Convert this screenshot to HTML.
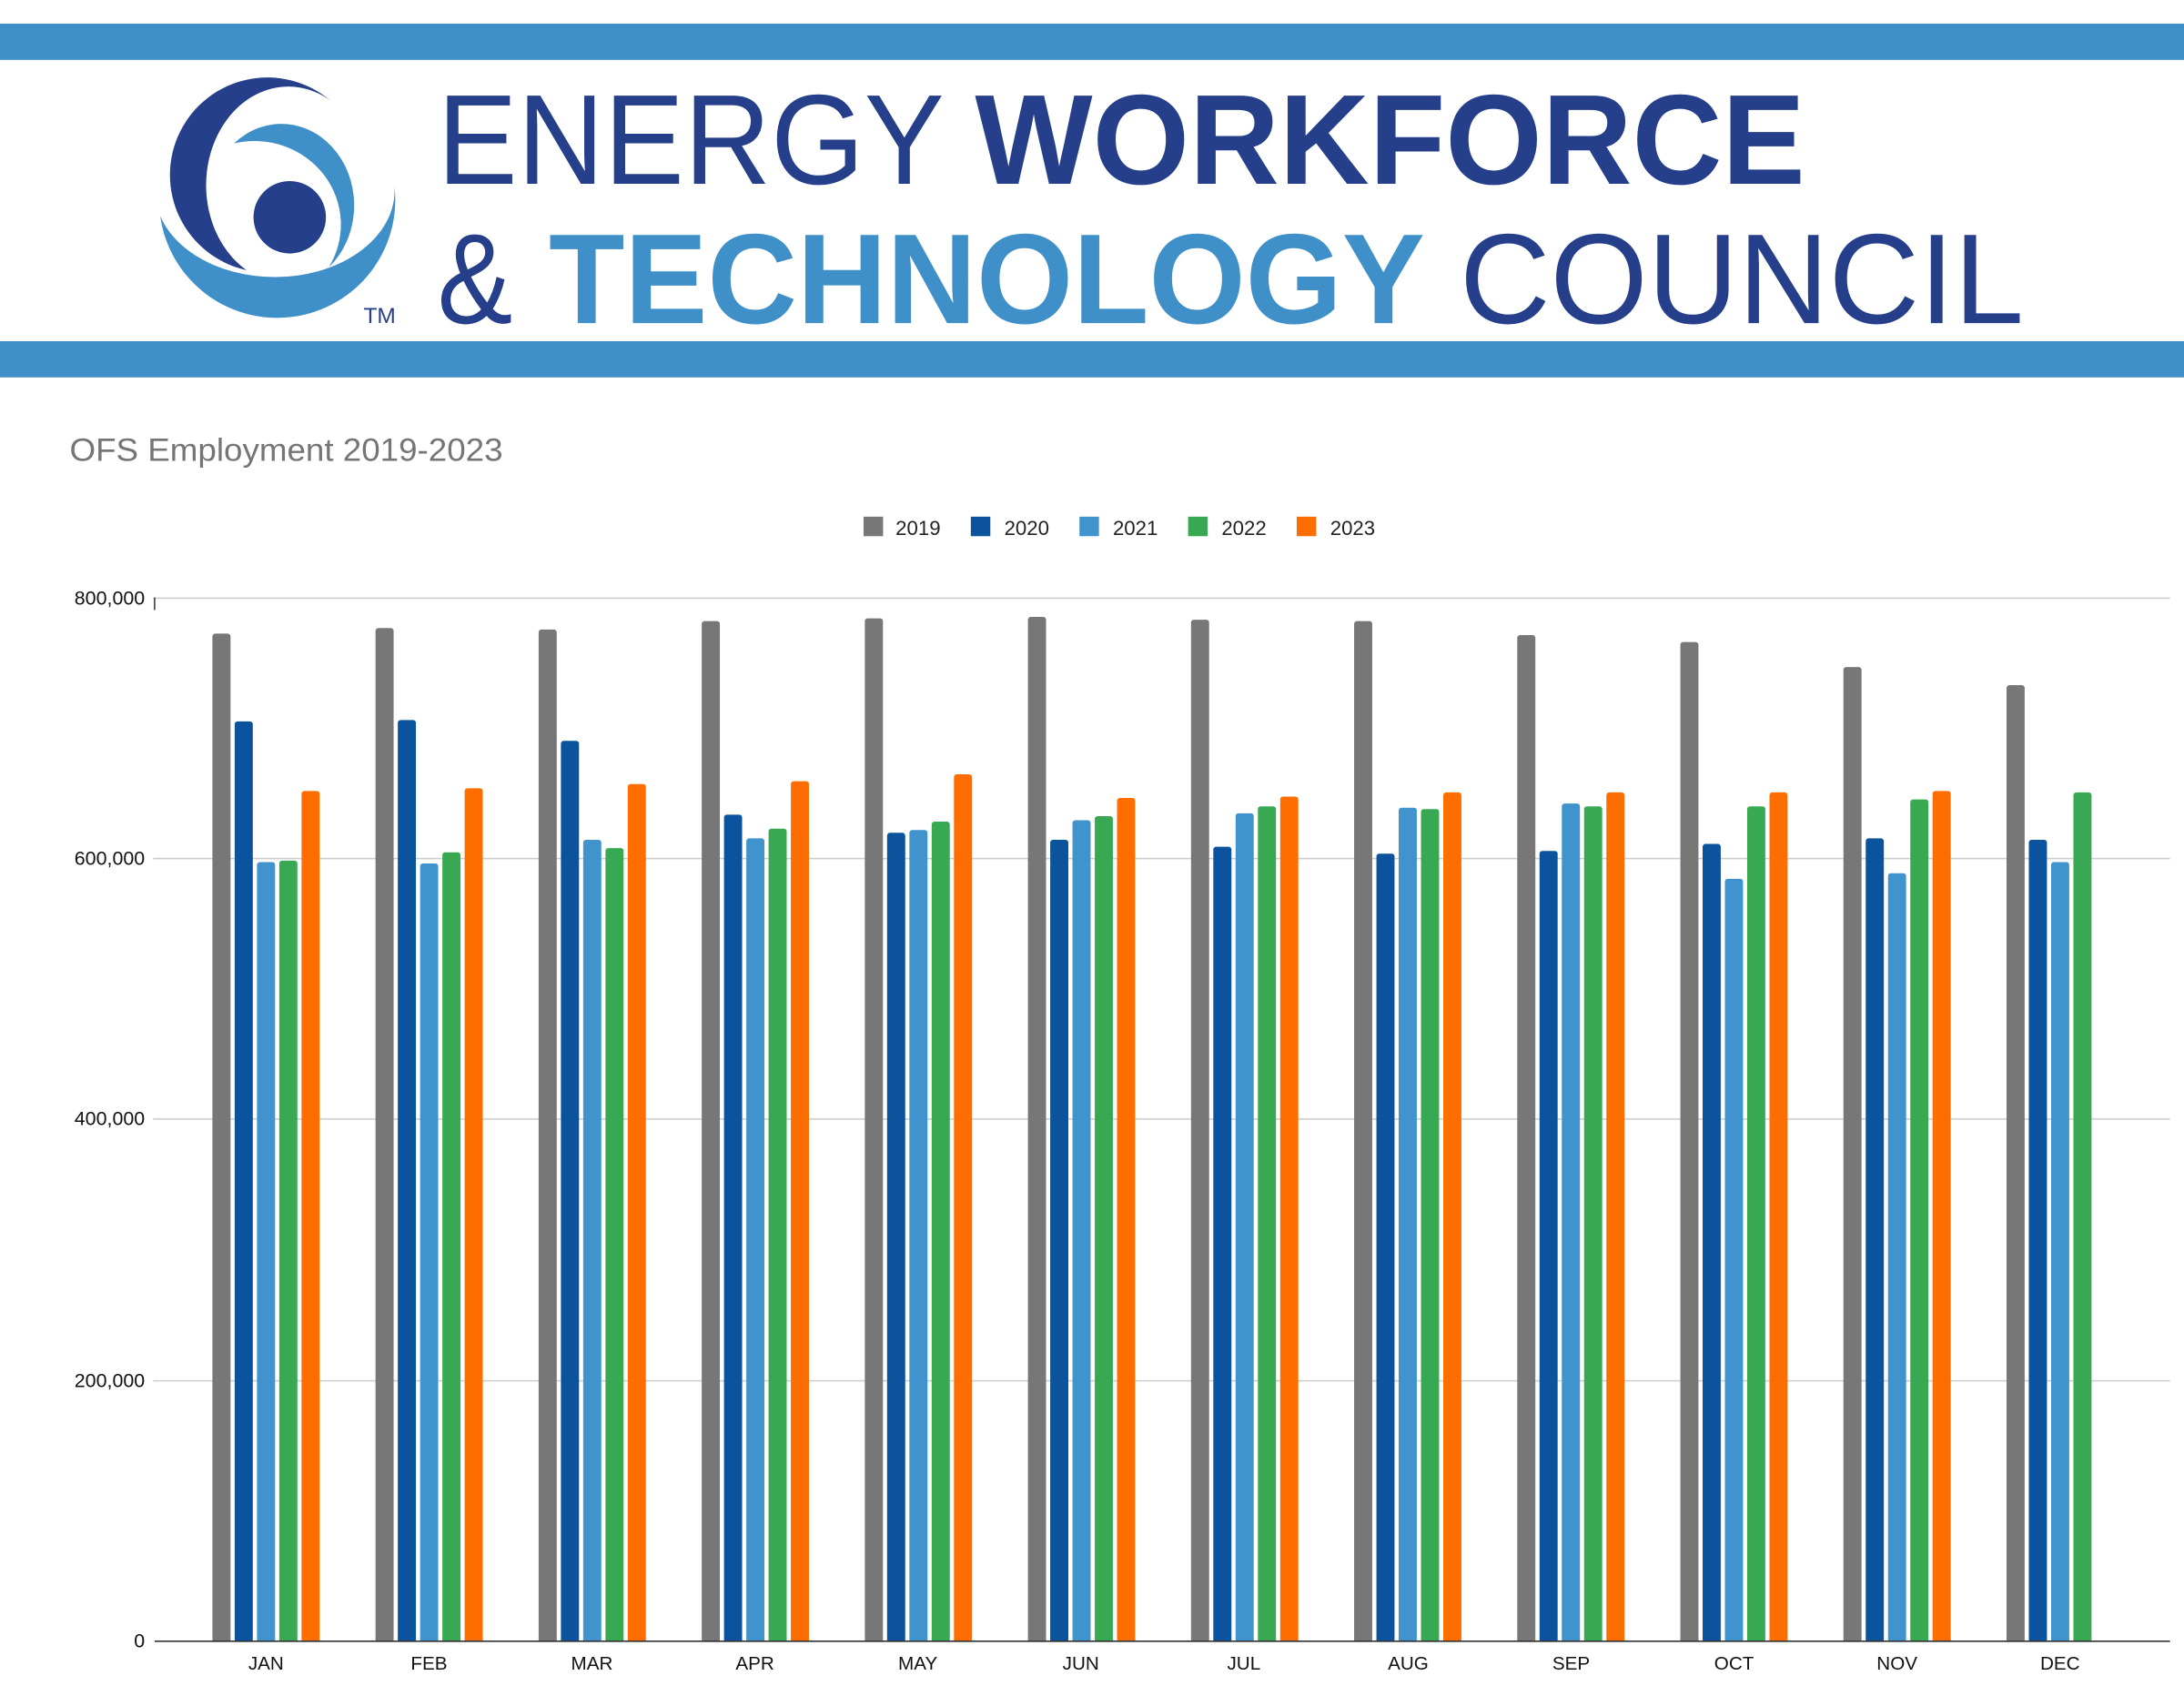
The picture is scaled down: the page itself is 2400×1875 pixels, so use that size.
<!DOCTYPE html>
<html><head><meta charset="utf-8"><style>
html,body{margin:0;padding:0;background:#fff;}
svg{display:block;}
text{font-family:"Liberation Sans",Arial,sans-serif;}
</style></head><body>
<svg width="2400" height="1875" viewBox="0 0 1568 1225" xmlns="http://www.w3.org/2000/svg">
<rect width="1568" height="1225" fill="#fff"/>
<rect x="0" y="17" width="1568" height="26" fill="#3f8fc8"/>
<rect x="0" y="245" width="1568" height="26" fill="#3f8fc8"/>
<!-- logo -->
<path d="M115,155 A84,84 0 0 0 283,132 A86,62 0 0 1 115,155 Z" fill="#3f8fc8"/>
<path d="M237,72 A70,70 0 1 0 177,194 A55,66 0 0 1 237,72 Z" fill="#253f8a"/>
<path d="M168,103 A62,60 0 0 1 236,192 A50,56 0 0 0 168,103 Z" fill="#3f8fc8"/>
<circle cx="208" cy="156" r="26" fill="#253f8a"/>
<text x="261" y="232" font-size="16" fill="#253f8a">TM</text>
<text x="314" y="132" font-size="92" fill="#253f8a" textLength="364" lengthAdjust="spacingAndGlyphs">ENERGY</text>
<text x="700" y="132" font-size="92" font-weight="bold" fill="#253f8a" textLength="596" lengthAdjust="spacingAndGlyphs">WORKFORCE</text>
<text x="314" y="232" font-size="92" fill="#253f8a" textLength="54" lengthAdjust="spacingAndGlyphs">&amp;</text>
<text x="394" y="232" font-size="92" font-weight="bold" fill="#3f8fc8" textLength="629" lengthAdjust="spacingAndGlyphs">TECHNOLOGY</text>
<text x="1048" y="232" font-size="92" fill="#253f8a" textLength="405" lengthAdjust="spacingAndGlyphs">COUNCIL</text>
<!-- title -->
<text x="50" y="331" font-size="23" fill="#757575" textLength="311" lengthAdjust="spacingAndGlyphs">OFS Employment 2019-2023</text>
<!-- legend -->
<g font-size="14.5" fill="#222">
<rect x="620" y="371" width="14" height="14" fill="#777"/><text x="643" y="384">2019</text>
<rect x="697" y="371" width="14" height="14" fill="#0b539c"/><text x="721" y="384">2020</text>
<rect x="775" y="371" width="14" height="14" fill="#4093cc"/><text x="799" y="384">2021</text>
<rect x="853" y="371" width="14" height="14" fill="#39a852"/><text x="877" y="384">2022</text>
<rect x="931" y="371" width="14" height="14" fill="#fe6d00"/><text x="955" y="384">2023</text>
</g>
<!-- grid -->
<g stroke="#ccc" stroke-width="1">
<line x1="110" y1="429.5" x2="1558" y2="429.5"/>
<line x1="110" y1="616.5" x2="1558" y2="616.5"/>
<line x1="110" y1="803.5" x2="1558" y2="803.5"/>
<line x1="110" y1="991.5" x2="1558" y2="991.5"/>
</g>
<line x1="111" y1="429" x2="111" y2="438" stroke="#333"/>
<!-- bars -->
<g>
<g transform="translate(191,0)"><rect x="-38.5" y="455" width="13" height="725" rx="2" fill="#777"/><rect x="-22.5" y="518" width="13" height="662" rx="2" fill="#0b539c"/><rect x="-6.5" y="619" width="13" height="561" rx="2" fill="#4093cc"/><rect x="9.5" y="618" width="13" height="562" rx="2" fill="#39a852"/><rect x="25.5" y="568" width="13" height="612" rx="2" fill="#fe6d00"/></g>
<g transform="translate(308.1,0)"><rect x="-38.5" y="451" width="13" height="729" rx="2" fill="#777"/><rect x="-22.5" y="517" width="13" height="663" rx="2" fill="#0b539c"/><rect x="-6.5" y="620" width="13" height="560" rx="2" fill="#4093cc"/><rect x="9.5" y="612" width="13" height="568" rx="2" fill="#39a852"/><rect x="25.5" y="566" width="13" height="614" rx="2" fill="#fe6d00"/></g>
<g transform="translate(425.2,0)"><rect x="-38.5" y="452" width="13" height="728" rx="2" fill="#777"/><rect x="-22.5" y="532" width="13" height="648" rx="2" fill="#0b539c"/><rect x="-6.5" y="603" width="13" height="577" rx="2" fill="#4093cc"/><rect x="9.5" y="609" width="13" height="571" rx="2" fill="#39a852"/><rect x="25.5" y="563" width="13" height="617" rx="2" fill="#fe6d00"/></g>
<g transform="translate(542.3,0)"><rect x="-38.5" y="446" width="13" height="734" rx="2" fill="#777"/><rect x="-22.5" y="585" width="13" height="595" rx="2" fill="#0b539c"/><rect x="-6.5" y="602" width="13" height="578" rx="2" fill="#4093cc"/><rect x="9.5" y="595" width="13" height="585" rx="2" fill="#39a852"/><rect x="25.5" y="561" width="13" height="619" rx="2" fill="#fe6d00"/></g>
<g transform="translate(659.4,0)"><rect x="-38.5" y="444" width="13" height="736" rx="2" fill="#777"/><rect x="-22.5" y="598" width="13" height="582" rx="2" fill="#0b539c"/><rect x="-6.5" y="596" width="13" height="584" rx="2" fill="#4093cc"/><rect x="9.5" y="590" width="13" height="590" rx="2" fill="#39a852"/><rect x="25.5" y="556" width="13" height="624" rx="2" fill="#fe6d00"/></g>
<g transform="translate(776.5,0)"><rect x="-38.5" y="443" width="13" height="737" rx="2" fill="#777"/><rect x="-22.5" y="603" width="13" height="577" rx="2" fill="#0b539c"/><rect x="-6.5" y="589" width="13" height="591" rx="2" fill="#4093cc"/><rect x="9.5" y="586" width="13" height="594" rx="2" fill="#39a852"/><rect x="25.5" y="573" width="13" height="607" rx="2" fill="#fe6d00"/></g>
<g transform="translate(893.6,0)"><rect x="-38.5" y="445" width="13" height="735" rx="2" fill="#777"/><rect x="-22.5" y="608" width="13" height="572" rx="2" fill="#0b539c"/><rect x="-6.5" y="584" width="13" height="596" rx="2" fill="#4093cc"/><rect x="9.5" y="579" width="13" height="601" rx="2" fill="#39a852"/><rect x="25.5" y="572" width="13" height="608" rx="2" fill="#fe6d00"/></g>
<g transform="translate(1010.7,0)"><rect x="-38.5" y="446" width="13" height="734" rx="2" fill="#777"/><rect x="-22.5" y="613" width="13" height="567" rx="2" fill="#0b539c"/><rect x="-6.5" y="580" width="13" height="600" rx="2" fill="#4093cc"/><rect x="9.5" y="581" width="13" height="599" rx="2" fill="#39a852"/><rect x="25.5" y="569" width="13" height="611" rx="2" fill="#fe6d00"/></g>
<g transform="translate(1127.8,0)"><rect x="-38.5" y="456" width="13" height="724" rx="2" fill="#777"/><rect x="-22.5" y="611" width="13" height="569" rx="2" fill="#0b539c"/><rect x="-6.5" y="577" width="13" height="603" rx="2" fill="#4093cc"/><rect x="9.5" y="579" width="13" height="601" rx="2" fill="#39a852"/><rect x="25.5" y="569" width="13" height="611" rx="2" fill="#fe6d00"/></g>
<g transform="translate(1244.9,0)"><rect x="-38.5" y="461" width="13" height="719" rx="2" fill="#777"/><rect x="-22.5" y="606" width="13" height="574" rx="2" fill="#0b539c"/><rect x="-6.5" y="631" width="13" height="549" rx="2" fill="#4093cc"/><rect x="9.5" y="579" width="13" height="601" rx="2" fill="#39a852"/><rect x="25.5" y="569" width="13" height="611" rx="2" fill="#fe6d00"/></g>
<g transform="translate(1362,0)"><rect x="-38.5" y="479" width="13" height="701" rx="2" fill="#777"/><rect x="-22.5" y="602" width="13" height="578" rx="2" fill="#0b539c"/><rect x="-6.5" y="627" width="13" height="553" rx="2" fill="#4093cc"/><rect x="9.5" y="574" width="13" height="606" rx="2" fill="#39a852"/><rect x="25.5" y="568" width="13" height="612" rx="2" fill="#fe6d00"/></g>
<g transform="translate(1479.1,0)"><rect x="-38.5" y="492" width="13" height="688" rx="2" fill="#777"/><rect x="-22.5" y="603" width="13" height="577" rx="2" fill="#0b539c"/><rect x="-6.5" y="619" width="13" height="561" rx="2" fill="#4093cc"/><rect x="9.5" y="569" width="13" height="611" rx="2" fill="#39a852"/></g>
</g>
<rect x="111" y="1179" width="1457" height="2" fill="#fff"/>
<line x1="111" y1="1178.5" x2="1558" y2="1178.5" stroke="#333" stroke-width="1"/>
<g font-size="14" fill="#111" text-anchor="end">
<text x="104" y="434">800,000</text>
<text x="104" y="621">600,000</text>
<text x="104" y="808">400,000</text>
<text x="104" y="996">200,000</text>
<text x="104" y="1183">0</text>
</g>
<g font-size="13.5" fill="#111" text-anchor="middle">
<text x="191" y="1199">JAN</text><text x="308" y="1199">FEB</text><text x="425" y="1199">MAR</text><text x="542" y="1199">APR</text><text x="659" y="1199">MAY</text><text x="776" y="1199">JUN</text><text x="893" y="1199">JUL</text><text x="1011" y="1199">AUG</text><text x="1128" y="1199">SEP</text><text x="1245" y="1199">OCT</text><text x="1362" y="1199">NOV</text><text x="1479" y="1199">DEC</text>
</g>
</svg>
</body></html>
